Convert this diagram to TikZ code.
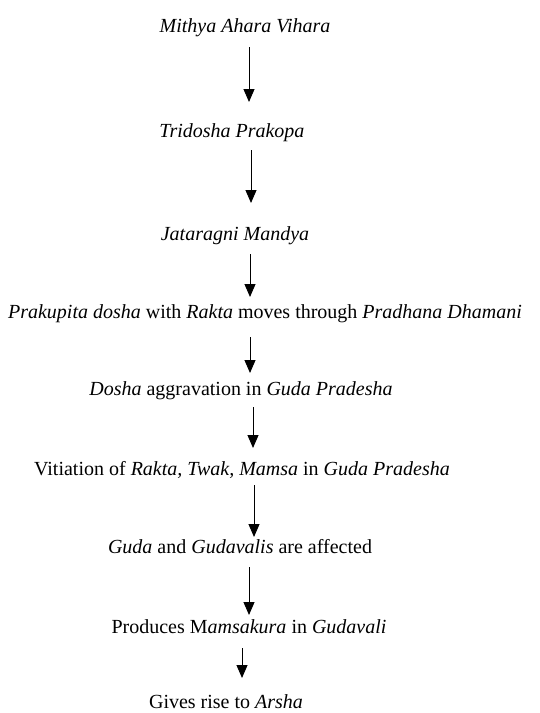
\documentclass[tikz,border=0pt]{standalone}
\usepackage{fontspec}
\setmainfont{Liberation Serif}
\usepackage{tikz}
\usetikzlibrary{arrows.meta}

\tikzset{
  step text/.style={anchor=base,inner sep=0pt,font=\fontsize{20}{24}\selectfont},
  flow/.style={line width=1pt,-{Triangle[length=13pt,width=11pt]}}
}

\begin{document}
\begin{tikzpicture}[x=1pt,y=-1pt]
		\useasboundingbox (0,0) rectangle (539,713);
		% the steps, top to bottom
		\node [step text] (mithya) at (245,32) {\textit{Mithya Ahara Vihara}};
		\node [step text] (tridosha) at (232,137) {\textit{Tridosha Prakopa}};
		\node [step text] (jatara) at (235,240) {\textit{Jataragni Mandya}};
		\node [step text] (prakupita) at (265,318) {\textit{Prakupita dosha} with \textit{Rakta} moves through \textit{Pradhana Dhamani}};
		\node [step text] (dosha) at (241,395) {\textit{Dosha} aggravation in \textit{Guda Pradesha}};
		\node [step text] (vitiation) at (242,475) {Vitiation of \textit{Rakta, Twak, Mamsa} in \textit{Guda Pradesha}};
		\node [step text] (guda) at (240,553) {\textit{Guda} and \textit{Gudavalis} are affected};
		\node [step text] (produces) at (249,633) {Produces M\textit{amsakura} in \textit{Gudavali}};
		\node [step text] (arsha) at (226,708) {Gives rise to \textit{Arsha}};
		% arrows in between
		\foreach \x/\ya/\yb [count=\i] in {249/47/102,251/150/203,250/254/297,250/337/373,253/407/448,254/485/537,249/567/615,242/648/678}
		{
			\coordinate (top\i) at (\x,\ya);
			\coordinate (tip\i) at (\x,\yb);
			\draw [flow] (top\i) -- (tip\i);
		}
	\end{tikzpicture}
\end{document}
